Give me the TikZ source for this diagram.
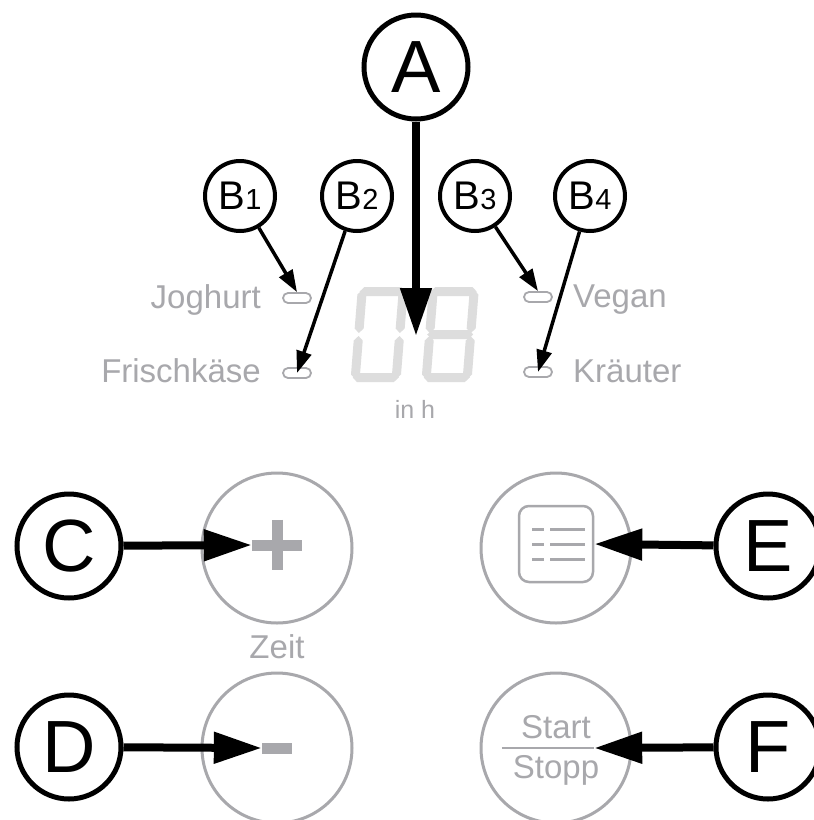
\documentclass[tikz,border=0pt]{standalone}
\usepackage{fontspec}
\setmainfont{Liberation Sans}
\usetikzlibrary{arrows.meta}
\usetikzlibrary{positioning}
\definecolor{panel}{RGB}{168, 168, 172}
\definecolor{segm}{RGB}{221, 221, 221}

% one segment of the display, horizontal (x1, x2, y) or vertical (x, y1, y2)
\newcommand{\hseg}[3]{\fill[segm] (#1,#3) -- ({#1+4.5},{#3-4.5}) -- ({#2-4.5},{#3-4.5}) -- (#2,#3) -- ({#2-4.5},{#3+4.5}) -- ({#1+4.5},{#3+4.5}) -- cycle;}
\newcommand{\vseg}[3]{\fill[segm] (#1,#2) -- ({#1+4.5},{#2+4.5}) -- ({#1+4.5},{#3-4.5}) -- (#1,#3) -- ({#1-4.5},{#3-4.5}) -- ({#1-4.5},{#2+4.5}) -- cycle;}

\begin{document}
\begin{tikzpicture}[x=1pt, y=-1pt,
    callout/.style={circle, draw, line width=5pt, minimum size=104pt, inner sep=0pt,
                    font=\fontsize{74}{74}\selectfont},
    subcall/.style={circle, draw, line width=4pt, minimum size=70pt, inner sep=0pt,
                    font=\fontsize{40}{40}\selectfont},
    button/.style={circle, draw=panel, line width=3pt, minimum size=150pt},
    led/.style={draw=panel, line width=1.8pt, rounded corners=5pt, minimum width=28pt,
                minimum height=10pt, inner sep=0pt},
    lbl/.style={text=panel, font=\fontsize{33}{33}\selectfont, inner sep=0pt},
    bigarrow/.style={line width=8pt, -{Triangle[length=48pt, width=30pt]}},
    smallarrow/.style={line width=3.5pt, -{Triangle[length=22pt, width=15pt]}}]

    \useasboundingbox (0,0) rectangle (814,820);
    \fill[white] (0,0) rectangle (814,820);

    % display 08
    \begin{scope}[shift={(358,287)}, xslant=0.08]
        \hseg{2}{48}{4.5} \hseg{2}{48}{90.5}
        \vseg{4.5}{3}{46} \vseg{4.5}{49}{92}
        \vseg{45.5}{3}{46} \vseg{45.5}{49}{92}
    \end{scope}
    \begin{scope}[shift={(429,287)}, xslant=0.08]
        \hseg{2}{48}{4.5} \hseg{2}{48}{47.5} \hseg{2}{48}{90.5}
        \vseg{4.5}{3}{46} \vseg{4.5}{49}{92}
        \vseg{45.5}{3}{46} \vseg{45.5}{49}{92}
    \end{scope}
    \node[minimum width=126pt, minimum height=96pt] (disp) at (416,336) {};
    \node[text=panel, font=\fontsize{25}{25}\selectfont, inner sep=0pt, anchor=base] (unit) at (415,418) {in h};

    % programme leds
    \node[led] (ledJ) at (297,298) {};
    \node[led] (ledF) at (297,373) {};
    \node[led] (ledV) at (538,297) {};
    \node[led] (ledK) at (538,372) {};
    \node[lbl, anchor=base east] (joghurt) at (261,308) {Joghurt};
    \node[lbl, anchor=base east] (frisch) at (261,382) {Frischkäse};
    \node[lbl, anchor=base west] (vegan) at (573,307) {Vegan};
    \node[lbl, anchor=base west] (kraeuter) at (573,382) {Kräuter};

    % buttons
    \node[button] (plusbtn) at (277,548) {};
    \node[button] (minusbtn) at (277,748) {};
    \node[button] (menubtn) at (556,548) {};
    \node[button] (ssbtn) at (556,748) {};
    \node[lbl, anchor=base] (zeit) at (277,658) {Zeit};

    \node[minimum size=50pt, inner sep=0pt] (plus) at (277,545) {};
    \draw[panel, line width=11pt] (plus.west) -- (plus.east) (plus.north) -- (plus.south);
    \node[minimum width=30pt, minimum height=11pt, fill=panel, inner sep=0pt] (minus) at (277,748) {};

    \node[draw=panel, line width=2.5pt, rounded corners=10pt, minimum width=74pt,
          minimum height=76pt] (menu) at (556,544) {};
    \foreach \dy in {-15,0,15} {
        \draw[panel, line width=3pt] ([shift={(-24,\dy)}]menu.center) -- ++(12,0);
        \draw[panel, line width=3pt] ([shift={(-6,\dy)}]menu.center) -- ++(35,0);
    }

    \node[minimum width=92pt, minimum height=0pt, inner sep=0pt] (divider) at (548,748) {};
    \draw[panel, line width=2.5pt] (divider.west) -- (divider.east);
    \node[lbl, anchor=base] (start) at (556,738) {Start};
    \node[lbl, anchor=base] (stopp) at (556,778) {Stopp};

    % callouts
    \node[callout] (A) at (416,67) {A};
    \node[subcall] (B1) at (240,196) {B{\fontsize{29}{29}\selectfont 1}};
    \node[subcall] (B2) at (357,196) {B{\fontsize{29}{29}\selectfont 2}};
    \node[subcall] (B3) at (475,196) {B{\fontsize{29}{29}\selectfont 3}};
    \node[subcall] (B4) at (590,196) {B{\fontsize{29}{29}\selectfont 4}};
    \node[callout] (C) at (69,546) {C};
    \node[callout] (D) at (69,747) {D};
    \node[callout] (E) at (768,546) {E};
    \node[callout] (F) at (768,747) {F};

    \draw[bigarrow] (A) -- (disp.center);
    \draw[smallarrow] (B1) -- (ledJ.north);
    \draw[smallarrow] (B2) -- (ledF.center);
    \draw[smallarrow] (B3) -- (ledV.north);
    \draw[smallarrow] (B4) -- (ledK.center);
    \draw[bigarrow] (C) -- (plus.west);
    \draw[bigarrow] (D) -- (minus.west);
    \draw[bigarrow] (E) -- (menu.east);
    \draw[bigarrow] (F) -- (divider.east);

\end{tikzpicture}
\end{document}
